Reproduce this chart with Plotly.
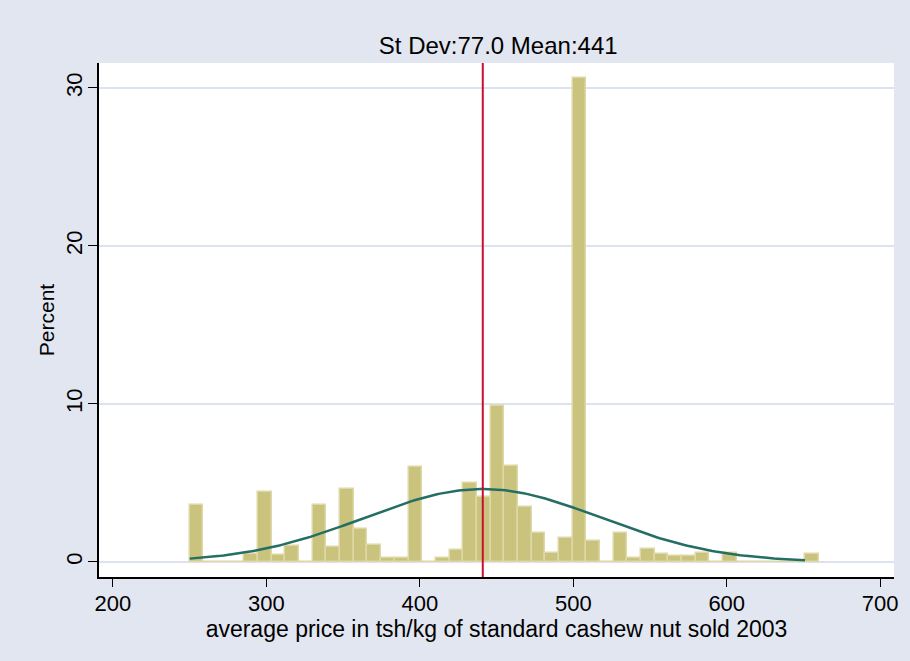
import math
import plotly.graph_objects as go

# Histogram of average cashew nut price (tsh/kg), 2003
bin_start = 250.0
bin_width = 8.913
percent = [
    3.6, 0, 0, 0, 0.5, 4.4, 0.45, 1.0, 0, 3.6,
    0.95, 4.6, 2.1, 1.1, 0.25, 0.25, 6.0, 0, 0.25, 0.75,
    5.0, 4.1, 9.85, 6.1, 3.45, 1.85, 0.6, 1.5, 30.6, 1.35,
    0, 1.85, 0.25, 0.85, 0.5, 0.35, 0.4, 0.6, 0, 0.55,
    0, 0, 0, 0, 0, 0.5,
]
mean_price = 441.0
sd_price = 77.0
curve_min, curve_max = 250.0, 651.0

x_ticks = [200, 300, 400, 500, 600, 700]
y_ticks = [0, 10, 20, 30]

centers = [bin_start + (i + 0.5) * bin_width for i in range(len(percent))]

# Normal density with the sample mean/sd, scaled to percent per bin
n_pts = 200
curve_x = [curve_min + (curve_max - curve_min) * k / (n_pts - 1) for k in range(n_pts)]
curve_y = [
    100 * bin_width / (sd_price * math.sqrt(2 * math.pi))
    * math.exp(-0.5 * ((v - mean_price) / sd_price) ** 2)
    for v in curve_x
]

font_family = "Liberation Sans, Arial, sans-serif"

fig = go.Figure()
fig.add_trace(go.Bar(
    x=centers, y=percent, width=bin_width,
    marker=dict(color="#C9C37E", line=dict(color="#DDD8A6", width=1.5)),
    hoverinfo="x+y", showlegend=False,
))
fig.add_trace(go.Scatter(
    x=curve_x, y=curve_y, mode="lines",
    line=dict(color="#246E64", width=2.5), showlegend=False,
))
fig.add_shape(
    type="line", xref="x", yref="paper",
    x0=mean_price, x1=mean_price, y0=0, y1=1,
    line=dict(color="#C8102E", width=2),
)

fig.update_layout(
    width=910, height=661,
    margin=dict(l=99, r=13, t=63, b=84),
    paper_bgcolor="#E1E6F0",
    plot_bgcolor="white",
    bargap=0,
    font=dict(family=font_family, color="black", size=22),
    title=dict(
        text=f"St Dev:{sd_price:.1f} Mean:{mean_price:.0f}",
        x=0.5475, xanchor="center", xref="container",
        y=1 - 46 / 661, yanchor="middle", yref="container",
        font=dict(size=24, family=font_family, color="black"),
    ),
    xaxis=dict(
        range=[190.9, 709.0],
        tickvals=x_ticks,
        ticks="outside", ticklen=8, tickwidth=1.2, tickcolor="black",
        showline=True, linecolor="black", linewidth=1.5,
        showgrid=False, zeroline=False,
        tickfont=dict(size=22),
        ticklabelstandoff=-2,
        title=dict(text="average price in tsh/kg of standard cashew nut sold 2003",
                   font=dict(size=23), standoff=0),
    ),
    yaxis=dict(
        range=[-0.95, 31.58],
        tickvals=y_ticks, tickangle=-90,
        ticks="outside", ticklen=9, tickwidth=1.2, tickcolor="black",
        showline=True, linecolor="black", linewidth=1.5,
        showgrid=True, gridcolor="#DDE3EE", gridwidth=2,
        zeroline=False,
        tickfont=dict(size=22),
        ticklabelstandoff=-3,
        title=dict(text="Percent", font=dict(size=21), standoff=2),
    ),
)

fig.write_html("out.html")
